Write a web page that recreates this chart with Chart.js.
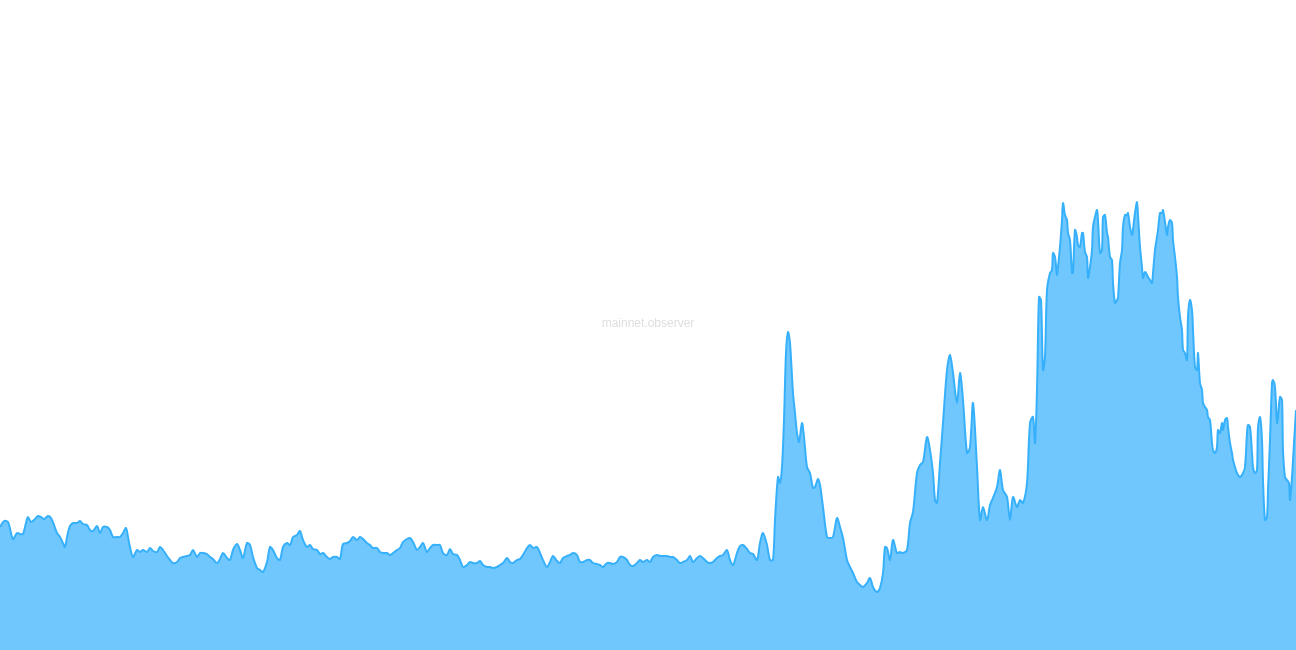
<!DOCTYPE html>
<html>
<head>
<meta charset="utf-8">
<title>mainnet.observer</title>
<script src="https://cdn.jsdelivr.net/npm/chart.js@4"></script>
<style>
    body { margin: 0; background: #fff; }
    .wrap { position: relative; width: 1296px; height: 650px; }
    .watermark {
        position: absolute; left: 0; top: 316px; width: 1296px; text-align: center;
        font-family: "Liberation Sans", Arial, sans-serif; font-size: 12px; color: #dedede;
        pointer-events: none;
    }
</style>
</head>
<body>
<div class="wrap">
    <canvas id="area-chart" width="1296" height="650"></canvas>
    <div class="watermark">mainnet.observer</div>
</div>
<script>
// time index (day) and series value
const days = [
    0, 4, 8, 13, 17, 20, 23, 26, 28, 31, 35, 38, 41, 44, 48, 51, 54, 57, 60, 63, 65, 67, 70, 73, 77, 80, 83, 87, 90, 93, 97, 100, 103, 107, 110, 113, 117, 120, 123, 126, 128, 130, 133, 137, 140, 143, 147, 150, 153, 157, 160, 163, 167, 170, 173, 177, 180, 183, 187, 190, 193, 197, 200,
    203, 207, 210, 213, 217, 220, 223, 227, 230, 233, 237, 240, 243, 247, 250, 253, 257, 260, 263, 267, 270, 273, 277, 280, 283, 287, 290, 293, 297, 300, 303, 307, 310, 313, 317, 320, 323, 327, 330, 333, 337, 340, 343, 347, 350, 353, 357, 360, 363, 367, 370, 373, 377, 380, 383, 387, 390, 393, 397, 400,
    403, 407, 410, 413, 417, 420, 423, 427, 430, 433, 437, 440, 443, 447, 450, 453, 457, 460, 463, 467, 470, 473, 477, 480, 483, 487, 490, 493, 497, 500, 503, 507, 510, 513, 517, 520, 523, 527, 530, 533, 537, 540, 543, 547, 550, 553, 557, 560, 563, 567, 570, 573, 577, 580, 583, 587, 590, 593, 597, 600,
    603, 607, 610, 613, 617, 620, 623, 627, 630, 633, 637, 640, 643, 647, 650, 653, 657, 660, 663, 667, 670, 673, 677, 680, 683, 687, 690, 693, 697, 700, 703, 707, 710, 713, 717, 720, 723, 727, 730, 733, 737, 740, 743, 747, 750, 753, 757, 760, 763, 767, 770, 773,
    775, 778, 780, 782, 784, 786, 788, 790, 793, 795, 797, 799, 802, 804, 807, 810, 813, 815, 818, 820, 823, 827, 830, 833, 837, 840, 843, 847, 850, 853, 857, 860, 863, 867, 870, 873, 877, 880, 883, 885, 887, 890, 893, 897, 900,
    903, 907, 910, 913, 917, 920, 923, 927, 930, 933, 935, 937, 940, 943, 947, 950, 953, 957, 960, 963, 967, 970, 973, 977, 980, 983, 987, 990, 993, 997, 1000, 1003, 1007, 1010, 1013, 1017, 1020, 1023, 1027, 1030,
    1033, 1035, 1037, 1039, 1041, 1043, 1045, 1047, 1050, 1052, 1053, 1055, 1057, 1058, 1060, 1062, 1063, 1065, 1067, 1068, 1070, 1072, 1073, 1075, 1077, 1078, 1080, 1082, 1083, 1085, 1087, 1088, 1090, 1092, 1093, 1095, 1097, 1098, 1100, 1102, 1103, 1105, 1107, 1108, 1110, 1112, 1113, 1115, 1117, 1118, 1120, 1122, 1123, 1125, 1127, 1128, 1130, 1132, 1133, 1135, 1137, 1138, 1140, 1142, 1143, 1145, 1147, 1148, 1150,
    1152, 1153, 1155, 1157, 1158, 1160, 1162, 1163, 1165, 1167, 1168, 1170, 1172, 1173, 1175, 1177, 1178, 1180, 1182, 1183, 1185, 1187, 1188, 1190, 1192, 1193, 1195, 1197, 1198, 1200, 1202, 1203, 1205, 1207, 1208, 1210, 1212, 1213, 1215, 1217, 1218, 1220, 1222, 1223, 1225, 1227, 1228, 1230, 1232, 1233, 1235, 1237, 1240, 1243, 1245, 1247, 1248, 1250, 1252, 1253, 1255, 1257, 1258, 1260, 1262, 1263, 1265, 1267, 1268, 1270, 1272, 1273, 1275, 1277, 1278, 1280, 1282, 1283, 1285, 1287, 1289, 1290, 1292, 1294, 1296
];

const nodes = [
    123, 129, 128, 111, 117, 116, 116, 127, 133, 128, 131, 134, 133, 131, 134, 132, 125, 117, 113, 107, 103, 113, 124, 127, 127, 129, 126, 125, 120, 119, 124, 117, 123, 123, 120, 113, 113, 113, 117, 122, 113, 103, 93, 100, 98, 100, 98, 102, 99, 98, 103, 100, 94, 90, 87, 88, 92, 93, 94, 95, 100, 93, 97,
    97, 96, 93, 91, 87, 91, 97, 92, 90, 100, 106, 100, 92, 107, 105, 93, 82, 80, 78, 88, 103, 100, 92, 90, 103, 107, 105, 113, 115, 119, 110, 103, 105, 101, 100, 96, 97, 93, 91, 93, 93, 91, 106, 107, 109, 113, 110, 113, 111, 107, 105, 102, 102, 98, 97, 97, 95, 97, 100, 102,
    108, 111, 112, 108, 100, 103, 107, 98, 102, 105, 105, 105, 97, 95, 101, 96, 95, 90, 83, 85, 88, 87, 87, 89, 85, 83, 83, 82, 83, 85, 87, 92, 88, 87, 90, 91, 95, 102, 105, 102, 103, 97, 90, 83, 88, 94, 89, 87, 92, 94, 95, 97, 95, 88, 88, 90, 90, 87, 86, 85,
    83, 87, 87, 86, 88, 93, 93, 90, 85, 84, 87, 90, 88, 90, 88, 93, 95, 94, 94, 94, 93, 93, 90, 87, 88, 90, 94, 88, 92, 94, 92, 88, 87, 88, 92, 94, 95, 100, 90, 85, 97, 104, 105, 101, 97, 96, 90, 107, 117, 105, 90, 90,
    130, 173, 167, 183, 230, 297, 318, 307, 257, 237, 217, 208, 227, 213, 183, 177, 162, 163, 171, 165, 143, 113, 112, 113, 132, 123, 112, 90, 83, 77, 68, 65, 63, 67, 72, 63, 58, 62, 77, 103, 102, 90, 110, 97, 98,
    97, 100, 127, 138, 177, 185, 188, 213, 200, 177, 150, 147, 187, 227, 280, 295, 277, 247, 277, 250, 197, 203, 247, 183, 130, 143, 130, 145, 152, 163, 180, 160, 153, 130, 153, 143, 150, 147, 167, 227,
    233, 207, 260, 353, 350, 280, 293, 360, 377, 380, 397, 393, 375, 383, 403, 430, 447, 435, 430, 417, 410, 377, 377, 420, 413, 405, 403, 417, 417, 398, 393, 372, 383, 400, 423, 433, 440, 430, 397, 400, 433, 435, 417, 413, 393, 390, 367, 347, 350, 352, 387, 400, 423, 435, 435, 437, 423, 415, 420, 437, 448, 435, 403, 383, 372, 378, 375, 373, 370,
    367, 377, 400, 413, 420, 437, 437, 440, 428, 415, 423, 430, 427, 410, 393, 373, 353, 333, 320, 300, 297, 290, 333, 350, 340, 320, 283, 280, 297, 267, 260, 247, 243, 240, 233, 230, 207, 200, 197, 203, 220, 217, 227, 220, 230, 232, 223, 207, 197, 190, 183, 177, 173, 177, 183, 217, 225, 223, 197, 183, 177, 180, 223, 233, 210, 170, 130, 133, 160, 210, 267, 270, 263, 227, 233, 253, 250, 200, 173, 170, 167, 150, 173, 207, 240
];

const series = days.map((d, i) => ({ x: d, y: nodes[i] }));
console.log(days.length, nodes.length);

const areaChart = document.getElementById('area-chart');

new Chart(areaChart, {
    type: 'line',
    data: {
        datasets: [{
            label: 'mainnet',
            data: series,
            fill: 'origin',
            backgroundColor: 'rgb(112, 199, 253)',
            borderColor: 'rgb(54, 176, 251)',
            borderWidth: 2,
            pointRadius: 0,
            tension: 0.3
        }]
    },
    options: {
        responsive: false,
        animation: false,
        layout: { padding: 0 },
        plugins: {
            legend: { display: false },
            tooltip: { enabled: false }
        },
        scales: {
            x: { type: 'linear', min: 0, max: 1296, display: false },
            y: { min: 0, max: 650, display: false }
        }
    }
});
</script>
</body>
</html>
